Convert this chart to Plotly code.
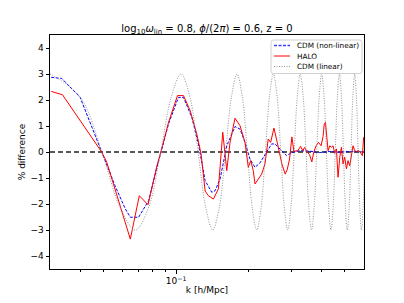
import plotly.graph_objects as go

# CDM (linear) - read at peaks, troughs, zero crossings and eighth-points
k_lin = [0.0300, 0.03995, 0.0492, 0.05845, 0.0677, 0.07695, 0.0862, 0.09545,
         0.1047, 0.11395, 0.1232, 0.13245, 0.1417, 0.15095, 0.1602, 0.16945,
         0.1787, 0.18795, 0.1972, 0.20645, 0.2157, 0.22495, 0.2342, 0.24345,
         0.2527, 0.26195, 0.2712, 0.28045, 0.2897, 0.29895, 0.3082, 0.31745,
         0.3267, 0.33595, 0.3452, 0.35445, 0.3637, 0.37295, 0.3822, 0.39145,
         0.4007, 0.40995, 0.4192, 0.42845, 0.4377, 0.44695, 0.4562, 0.46545,
         0.4747, 0.48395, 0.4932, 0.50245, 0.5117, 0.52095, 0.5302, 0.53945,
         0.5487, 0.55795, 0.5672, 0.57645, 0.5857, 0.59495, 0.6042]
v_lin = [3.0, 2.12, 0.0, -2.12, -3.0, -2.12, 0.0, 2.12,
         3.0, 2.12, 0.0, -2.12, -3.0, -2.12, 0.0, 2.12,
         3.0, 2.12, 0.0, -2.12, -3.0, -2.12, 0.0, 2.12,
         3.0, 2.12, 0.0, -2.12, -3.0, -2.12, 0.0, 2.12,
         3.0, 2.12, 0.0, -2.12, -3.0, -2.12, 0.0, 2.12,
         3.0, 2.12, 0.0, -2.12, -3.0, -2.12, 0.0, 2.12,
         3.0, 2.12, 0.0, -2.12, -3.0, -2.12, 0.0, 2.12,
         3.0, 2.12, 0.0, -2.12, -3.0, -2.12, 0.0]

# CDM (non-linear)
k_nl = [0.03035, 0.03357, 0.0400, 0.04912, 0.0558, 0.06155, 0.06455, 0.06985,
        0.07687, 0.08323, 0.08728, 0.09294, 0.1022, 0.1072, 0.1161, 0.1236,
        0.1318, 0.1404, 0.1449, 0.1520, 0.1620, 0.1753, 0.1839, 0.1928,
        0.2022, 0.2121, 0.2224, 0.2371, 0.2486, 0.2566, 0.2691, 0.2868,
        0.3016, 0.3253, 0.3579, 0.3936, 0.4329, 0.4761, 0.5236, 0.5982]
v_nl = [2.87, 2.83, 2.10, 0.03, -1.30, -2.19, -2.51, -2.51,
        -1.87, -0.59, 0.18, 1.08, 2.10, 2.10, 1.33, 0.31,
        -1.10, -1.55, -1.49, -1.04, 0.24, 0.98, 0.88, 0.37,
        -0.27, -0.59, -0.42, -0.01, 0.31, 0.31, 0.12, -0.14,
        -0.02, 0.05, 0.03, -0.02, 0.02, -0.01, 0.02, 0.0]

# HALO
k_halo = [0.03035, 0.0338, 0.04912, 0.05152, 0.06455, 0.07033, 0.07641, 0.08323,
          0.08779, 0.09294, 0.10125, 0.1072, 0.11425, 0.12174, 0.12685, 0.1318,
          0.13596, 0.14262, 0.14955, 0.15596, 0.1620, 0.16716, 0.1753, 0.1839,
          0.1928, 0.19897, 0.20356, 0.20864, 0.2121, 0.21882, 0.22599, 0.23323,
          0.24065, 0.2462, 0.2541, 0.26218, 0.26823, 0.27416, 0.28293, 0.28833,
          0.29498, 0.3016, 0.30734, 0.31925, 0.32759, 0.33483, 0.34027, 0.34883,
          0.35686, 0.36475, 0.3717, 0.3800, 0.38876, 0.39845, 0.40614, 0.41075,
          0.4155, 0.41944, 0.42587, 0.4329, 0.43992, 0.44668, 0.45394, 0.46132,
          0.46848, 0.4761, 0.48379, 0.4912, 0.49918, 0.50741, 0.51518, 0.5236,
          0.53211, 0.54027, 0.54918, 0.55811, 0.56666, 0.57588, 0.58538, 0.59093,
          0.5982]
v_halo = [2.33, 2.20, 0.0, -0.38, -3.35, -1.68, -2.03, -0.53,
          0.24, 1.14, 2.17, 2.17, 1.59, 0.69, -0.08, -1.50,
          -1.68, -1.81, -1.42, 0.76, -0.72, 0.37, 1.30, 1.01,
          0.37, -0.59, -0.33, -0.72, -1.23, -1.04, -0.85, -0.46,
          0.50, 0.37, 0.92, 0.37, 0.0, -0.46, -0.85, -0.68,
          -0.27, 0.58, 0.03, 0.05, 0.22, 0.05, 0.18, 0.0,
          -0.10, -0.38, 0.0, 0.24, 0.37, 0.24, 0.60, 1.08,
          1.14, 0.69, 0.05, 0.24, 0.18, 0.24, -0.05, 0.12,
          -0.97, -0.20, 0.18, -0.46, -0.20, -0.65, -0.33, -0.53,
          -0.14, 0.24, 0.05, 0.02, 0.05, 0.03, -0.08, -0.14,
          0.57]

k_zero = [0.03, 0.6]
v_zero = [0.0, 0.0]

x_major = [0.1]
x_major_text = ["10<sup>−1</sup>"]
x_minor = [0.04, 0.05, 0.06, 0.07, 0.08, 0.09, 0.2, 0.3, 0.4, 0.5]
y_ticks = [-4, -3, -2, -1, 0, 1, 2, 3, 4]

legend_names = ["CDM (non-linear)", "HALO", "CDM (linear)"]
legend_colors = ["rgb(60,60,255)", "rgb(255,0,0)", "rgba(128,128,128,0.85)"]
legend_dashes = ["3px,1.5px", "solid", "1px,1.5px"]
legend_widths = [1.4, 1, 1]

FONT = "DejaVu Sans"
# page has an 8px body margin; keep the figure inside the 404x303 window
OFF = 8
W, H = 396, 287
ML, MR, MT, MB = 42, 40, 27, 26
PW, PH = W - ML - MR, H - MT - MB


def px(x):  # page-pixel x (reference image) -> paper x
    return (x - OFF - ML) / PW


def py(y):  # page-pixel y -> paper y
    return 1 - (y - OFF - MT) / PH


fig = go.Figure()
fig.add_trace(go.Scatter(x=k_zero, y=v_zero, mode="lines", showlegend=False,
                         line=dict(color="#222222", width=1.6, dash="5px,3px"),
                         hoverinfo="skip"))
fig.add_trace(go.Scatter(x=k_nl, y=v_nl, mode="lines", name=legend_names[0],
                         line=dict(color="#0000ff", width=1, dash=legend_dashes[0])))
fig.add_trace(go.Scatter(x=k_halo, y=v_halo, mode="lines", name=legend_names[1],
                         line=dict(color=legend_colors[1], width=1)))
fig.add_trace(go.Scatter(x=k_lin, y=v_lin, mode="lines", name=legend_names[2],
                         line=dict(color=legend_colors[2], width=1,
                                   dash=legend_dashes[2], shape="spline")))

# compact legend box (matplotlib style)
bx0, bx1, by0, by1 = px(271), px(362), py(73.5), py(40)
rx, ry = 2.5 / PW, 2.5 / PH
path = (f"M {bx0+rx},{by1} L {bx1-rx},{by1} Q {bx1},{by1} {bx1},{by1-ry} "
        f"L {bx1},{by0+ry} Q {bx1},{by0} {bx1-rx},{by0} L {bx0+rx},{by0} "
        f"Q {bx0},{by0} {bx0},{by0+ry} L {bx0},{by1-ry} Q {bx0},{by1} {bx0+rx},{by1} Z")
shapes = [dict(type="path", xref="paper", yref="paper", path=path,
               fillcolor="rgba(255,255,255,0.8)", line=dict(color="#d0d0d0", width=1),
               layer="above")]
annotations = []
rows = [45.5, 56, 66.5]
for name, col, dash, lw, ry_ in zip(legend_names, legend_colors, legend_dashes,
                                    legend_widths, rows):
    shapes.append(dict(type="line", xref="paper", yref="paper",
                       x0=px(274), x1=px(290), y0=py(ry_), y1=py(ry_),
                       line=dict(color=col, width=lw, dash=dash), layer="above"))
    annotations.append(dict(text=name, xref="paper", yref="paper", x=px(295), y=py(ry_),
                            xanchor="left", yanchor="middle", showarrow=False,
                            font=dict(size=7.3, family=FONT, color="black")))

fig.update_layout(
    width=W, height=H,
    margin=dict(l=ML, r=MR, t=MT, b=MB, autoexpand=False),
    paper_bgcolor="white", plot_bgcolor="white",
    font=dict(family=FONT, size=9, color="black"),
    title=dict(text="log<sub>10</sub><i>ω</i><sub>lin</sub> = 0.8, <i>ϕ</i>/(2<i>π</i>) = 0.6, z = 0",
               x=0.5, xref="paper", xanchor="center",
               y=1 - (28 - OFF) / H, yanchor="middle", font=dict(size=10)),
    showlegend=False,
    shapes=shapes, annotations=annotations,
)
fig.update_xaxes(type="log", range=[-1.5229, -0.2218], automargin=False,
                 showline=True, linecolor="black", linewidth=1, mirror=True,
                 showgrid=False, zeroline=False,
                 tickmode="array", tickvals=x_major, ticktext=x_major_text,
                 ticks="outside", ticklen=3.5, tickcolor="black",
                 minor=dict(tickmode="array", tickvals=x_minor, ticks="outside",
                            ticklen=2, tickcolor="black", showgrid=False),
                 title=dict(text="k [h/Mpc]", standoff=4, font=dict(size=9)))
fig.update_yaxes(range=[-4.5, 4.5], automargin=False,
                 showline=True, linecolor="black", linewidth=1, mirror=True,
                 showgrid=False, zeroline=False,
                 tickmode="array", tickvals=y_ticks,
                 ticks="outside", ticklen=3.5, tickcolor="black",
                 title=dict(text="% difference", standoff=3, font=dict(size=9)))

fig.write_html("out.html")
